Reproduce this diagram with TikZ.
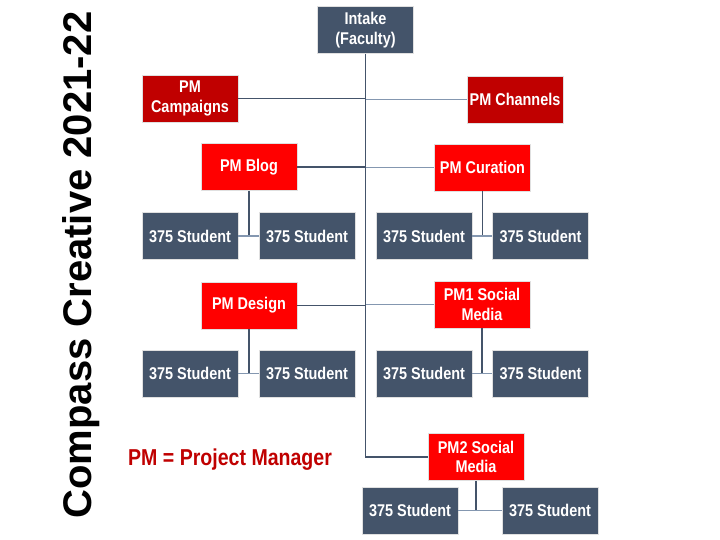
\documentclass[tikz,border=0pt]{standalone}
\usepackage{fontspec}
\setmainfont{Liberation Sans}
\newfontfamily\boxfont{Liberation Sans}[FakeStretch=0.85]
\definecolor{slate}{HTML}{44546A}
\definecolor{slatelight}{HTML}{8497B0}
\definecolor{pmdark}{HTML}{C00000}
\definecolor{pmred}{HTML}{FF0000}
\definecolor{edgegray}{HTML}{E0E0E0}
\tikzset{
  orgbox/.style={draw=edgegray, line width=0.8pt, minimum width=96pt, minimum height=47pt,
    inner sep=0pt, align=center, text=white,
    font=\boxfont\bfseries\fontsize{17}{19.5}\selectfont},
  student/.style={orgbox, fill=slate},
  pmlead/.style={orgbox, fill=pmdark},
  pmbox/.style={orgbox, fill=pmred},
  link/.style={draw=slate, line width=1.3pt},
  linklight/.style={draw=slatelight, line width=1.3pt}
}
\begin{document}
\begin{tikzpicture}[x=1pt,y=-1pt]
\useasboundingbox (0,0) rectangle (720,540);
\fill[white] (0,0) rectangle (720,540);

% title
\node[rotate=90, anchor=base, font=\bfseries\fontsize{40}{44}\selectfont, inner sep=0pt] (title) at (91.5,265) {Compass Creative 2021-22};

% boxes
\node[student] (intake) at (365.5,30) {Intake\\(Faculty)};
\node[pmlead] (camp) at (190,98.5) {PM\\Campaigns};
\node[pmlead] (chan) at (515,99.5) {PM Channels};
\node[pmbox] (blog) at (249,167) {PM Blog};
\node[pmbox] (cur) at (482.5,167.5) {PM Curation};
\node[student] (s1a) at (190,236) {375 Student};
\node[student] (s1b) at (307,236) {375 Student};
\node[student] (s1c) at (424,236) {375 Student};
\node[student] (s1d) at (540.5,236) {375 Student};
\node[pmbox] (design) at (249,305.5) {PM Design};
\node[pmbox] (pmone) at (482,304.5) {PM1 Social\\Media};
\node[student] (s2a) at (190,373.5) {375 Student};
\node[student] (s2b) at (307,373.5) {375 Student};
\node[student] (s2c) at (424,373.5) {375 Student};
\node[student] (s2d) at (540.5,373.5) {375 Student};
\node[pmbox] (pmtwo) at (476,457) {PM2 Social\\Media};
\node[student] (s3a) at (410,510.5) {375 Student};
\node[student] (s3b) at (550,510.5) {375 Student};

% legend
\node[anchor=base west, inner sep=0pt, text=pmdark, font=\boxfont\bfseries\fontsize{23}{25}\selectfont] (legend) at (128,465) {PM = Project Manager};

% trunk
\coordinate (trunkend) at (intake.south |- pmtwo.west);
\draw[link] (intake.south) -- (trunkend) -- (pmtwo.west);

% branches
\draw[link] (camp.east) -- (camp.east -| intake.south);
\draw[linklight] (chan.west) -- (chan.west -| intake.south);
\draw[link] (blog.east) -- (blog.east -| intake.south);
\draw[linklight] (cur.west) -- (cur.west -| intake.south);
\draw[link] (design.east) -- (design.east -| intake.south);
\draw[linklight] (pmone.west) -- (pmone.west -| intake.south);

% student links
\draw[link] (blog.south) -- (blog.south |- s1a.east);
\draw[linklight] (s1a.east) -- (s1b.west);
\draw[link] (cur.south) -- (cur.south |- s1c.east);
\draw[linklight] (s1c.east) -- (s1d.west);
\draw[link] (design.south) -- (design.south |- s2a.east);
\draw[linklight] (s2a.east) -- (s2b.west);
\draw[link] (pmone.south) -- (pmone.south |- s2c.east);
\draw[linklight] (s2c.east) -- (s2d.west);
\draw[link] (pmtwo.south) -- (pmtwo.south |- s3a.east);
\draw[linklight] (s3a.east) -- (s3b.west);
\end{tikzpicture}
\end{document}
